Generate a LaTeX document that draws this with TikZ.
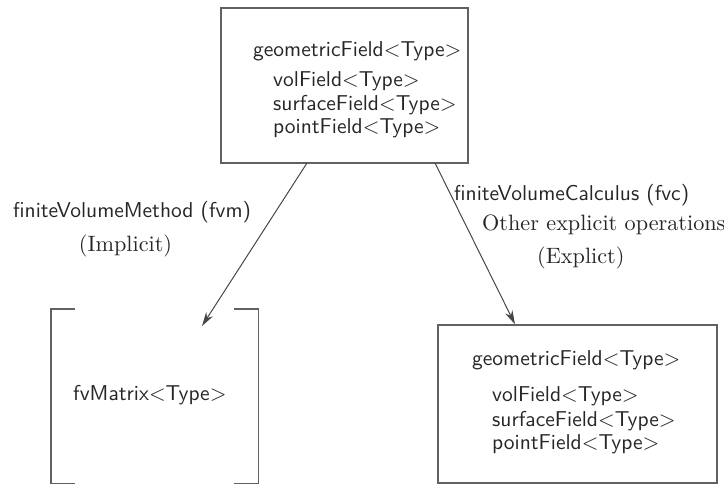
\documentclass[tikz,border=0pt]{standalone}
\usetikzlibrary{arrows.meta}
\newcommand{\sctxt}[1]{\scalebox{2.15}{#1}}
\newcommand{\srtxt}[1]{\scalebox{2.22}{#1}}
\begin{document}
\begin{tikzpicture}[x=1pt,y=-1pt,
  boxline/.style={draw=black!62,line width=1.4pt},
  sanstxt/.style={font=\sffamily\fontsize{10}{12}\selectfont,text=black!85,inner sep=0pt},
  sertxt/.style={font=\rmfamily\fontsize{10}{12}\selectfont,text=black!85,inner sep=0pt},
  conn/.style={draw=black!72,line width=1pt,-{Stealth[length=14pt,width=8pt]}}]
\useasboundingbox (0,0) rectangle (724,485);
% top box
\node[boxline,minimum width=247pt,minimum height=155pt,inner sep=0pt] (top) at (344.5,85.5) {};
\node[sanstxt,anchor=west] (t1) at (253,51) {\sctxt{geometricField<Type>}};
\node[sanstxt,anchor=west] (t2) at (273,81) {\sctxt{volField<Type>}};
\node[sanstxt,anchor=west] (t3) at (273,105) {\sctxt{surfaceField<Type>}};
\node[sanstxt,anchor=west] (t4) at (273,128) {\sctxt{pointField<Type>}};
% right box
\node[boxline,minimum width=279pt,minimum height=158pt,inner sep=0pt] (rb) at (577.5,404) {};
\node[sanstxt,anchor=west] (r1) at (472,360) {\sctxt{geometricField<Type>}};
\node[sanstxt,anchor=west] (r2) at (492,396.5) {\sctxt{volField<Type>}};
\node[sanstxt,anchor=west] (r3) at (492,421) {\sctxt{surfaceField<Type>}};
\node[sanstxt,anchor=west] (r4) at (492,444) {\sctxt{pointField<Type>}};
% left matrix
\node[minimum width=207pt,minimum height=174pt,inner sep=0pt] (lm) at (154.5,396) {};
\draw[boxline] ([xshift=24pt]lm.north west) -- (lm.north west) -- (lm.south west) -- ([xshift=24pt]lm.south west);
\draw[boxline] ([xshift=-24pt]lm.north east) -- (lm.north east) -- (lm.south east) -- ([xshift=-24pt]lm.south east);
\node[sanstxt,anchor=west] (lmt) at (73,395) {\sctxt{fvMatrix<Type>}};
% connectors
\coordinate (ls) at (307,163);
\coordinate (le) at (202,326);
\coordinate (rs) at (435,163);
\draw[conn] (ls) -- (le);
\draw[conn] (rs) -- (rb.north -| 515,0);
% labels
\node[sanstxt,anchor=west] (lab1) at (13,212) {\sctxt{finiteVolumeMethod (fvm)}};
\node[sertxt] (lab2) at (125.5,246) {\srtxt{(Implicit)}};
\node[sanstxt,anchor=west] (lab3) at (454,195) {\sctxt{finiteVolumeCalculus (fvc)}};
\node[sertxt,anchor=west] (lab4) at (482,225) {\srtxt{Other explicit operations}};
\node[sertxt,anchor=west] (lab5) at (537,257.5) {\srtxt{(Explict)}};
\end{tikzpicture}
\end{document}
